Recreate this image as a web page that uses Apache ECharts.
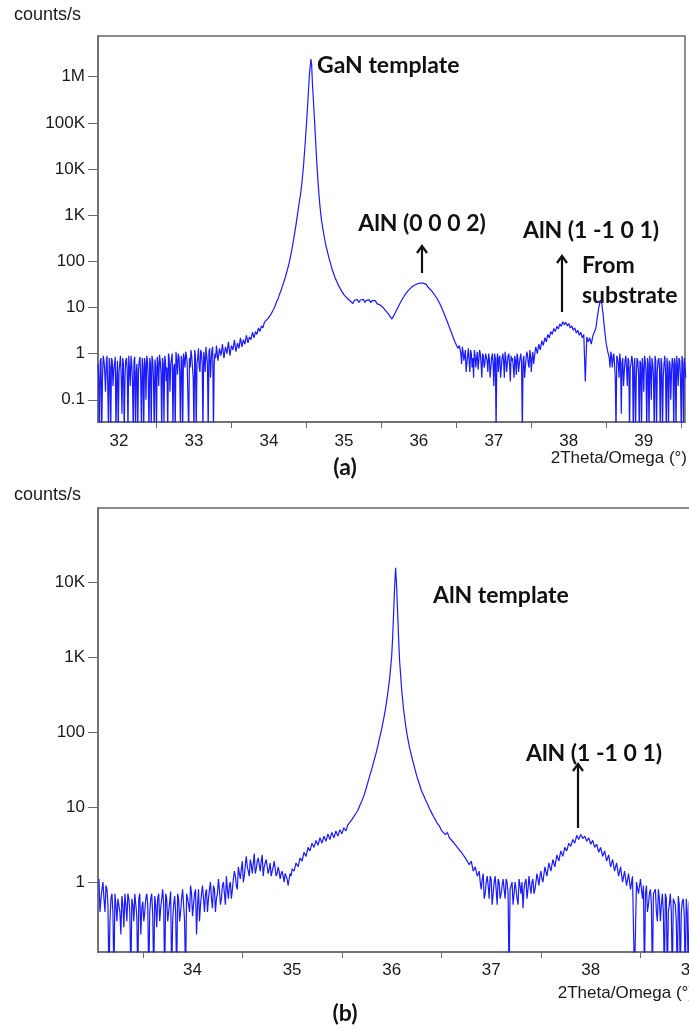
<!DOCTYPE html>
<html><head><meta charset="utf-8">
<script src="https://cdn.jsdelivr.net/npm/echarts@6/dist/echarts.min.js"></script>
<style>html,body{margin:0;padding:0;background:#fff}#c{width:689px;height:1031px}</style>
</head><body><div id="c"></div>
<script>
// (a) GaN template scan: [2Theta (deg), counts/s]
const scanA = [
[31.72,0.6],[31.74,0.02],[31.76,0.8],[31.78,0.3],[31.80,0.7],[31.82,0.15],[31.84,0.9],[31.86,0.02],[31.88,0.5],[31.90,0.8],
[31.92,0.2],[31.94,0.6],[31.96,0.02],[31.98,0.7],[32.00,0.4],[32.02,0.9],[32.04,0.05],[32.06,0.6],[32.08,0.3],[32.10,0.8],
[32.12,0.02],[32.14,0.5],[32.16,0.9],[32.18,0.25],[32.20,0.7],[32.22,0.02],[32.24,0.6],[32.26,0.4],[32.28,0.85],[32.30,0.02],
[32.32,0.5],[32.34,0.8],[32.36,0.1],[32.38,0.7],[32.40,0.02],[32.42,0.6],[32.44,0.9],[32.46,0.3],[32.48,0.75],[32.50,0.02],
[32.52,0.6],[32.54,0.95],[32.56,0.4],[32.58,0.8],[32.60,0.03],[32.62,0.7],[32.64,0.5],[32.66,1.0],[32.68,0.15],[32.70,0.75],
[32.72,0.02],[32.74,0.6],[32.76,1.1],[32.78,0.35],[32.80,0.85],[32.82,0.02],[32.84,0.7],[32.86,1.0],[32.88,0.5],[32.90,0.9],
[32.92,0.1],[32.94,0.8],[32.96,1.2],[32.98,0.5],[33.00,0.02],[33.02,0.9],[33.04,0.6],[33.06,1.3],[33.08,0.4],[33.10,1.0],
[33.12,0.02],[33.14,0.8],[33.16,1.4],[33.18,0.6],[33.20,1.1],[33.22,0.3],[33.24,1.2],[33.26,0.02],[33.28,1.0],[33.30,1.5],
[33.32,0.7],[33.34,1.3],[33.36,0.9],[33.38,1.6],[33.40,0.8],[33.42,1.4],[33.44,1.0],[33.46,1.8],[33.48,0.9],[33.50,1.5],
[33.52,1.2],[33.54,2.0],[33.56,1.1],[33.58,1.7],[33.60,1.3],[33.62,2.2],[33.64,1.4],[33.66,2.0],[33.68,1.6],[33.70,2.5],
[33.72,1.7],[33.74,2.3],[33.76,2.0],[33.78,2.9],[33.80,2.2],[33.82,3.0],[33.84,2.6],[33.86,3.6],[33.88,3.0],[33.90,4.0],
[33.92,3.6],[33.94,4.8],[33.96,4.4],[33.98,5.6],[34.00,5.5],[34.02,6.8],[34.04,7.5],[34.06,9],[34.08,10.5],[34.10,13],
[34.12,15],[34.14,19],[34.16,23],[34.18,29],[34.20,36],[34.22,46],[34.24,60],[34.26,80],[34.28,110],[34.30,160],
[34.32,240],[34.34,380],[34.36,600],[34.38,1000],[34.40,1700],[34.42,2700],[34.44,5000],[34.46,11000],[34.48,30000],[34.50,90000],
[34.52,300000],[34.54,1100000],[34.56,2400000],[34.57,1800000],[34.58,700000],[34.60,200000],[34.62,50000],[34.64,12000],[34.66,4000],[34.68,1600],
[34.70,800],[34.73,400],[34.76,220],[34.80,120],[34.84,70],[34.88,45],[34.92,32],[34.96,24],[35.00,19],[35.04,16],[35.08,14],
[35.10,13.5],[35.12,12.2],[35.14,14.3],[35.16,13.0],[35.18,14.8],[35.20,12.9],[35.22,14.5],[35.24,13.3],[35.26,15.0],[35.28,12.8],
[35.30,14.2],[35.32,13.1],[35.34,14.6],[35.36,12.7],[35.38,14.1],[35.40,13.4],[35.42,14.0],[35.44,12.1],[35.46,13.0],[35.48,11.4],
[35.50,11.8],[35.52,10.1],[35.54,10.0],[35.56,8.4],[35.58,8.3],[35.60,7.0],[35.62,6.9],[35.64,5.6],[35.66,6.4],[35.68,6.9],
[35.70,8.6],[35.72,9.1],[35.74,11.6],[35.76,12.0],[35.78,15.2],[35.80,15.8],[35.82,19.5],[35.84,19.6],[35.86,23.5],[35.88,23.3],
[35.90,27.3],[35.92,26.4],[35.94,30.2],[35.96,28.8],[35.98,32.5],[36.00,30.6],[36.02,33.8],[36.04,31.5],[36.06,33.6],[36.08,30.8],
[36.10,31.6],[36.12,27.8],[36.14,28.4],[36.16,23.9],[36.18,24.0],[36.20,19.8],[36.22,19.5],[36.24,15.8],[36.26,15.4],[36.28,12.0],
[36.30,11.5],[36.32,8.6],[36.34,8.0],[36.36,5.9],[36.38,5.6],[36.40,4.0],[36.42,3.9],[36.44,2.7],[36.46,2.6],[36.48,1.8],
[36.50,1.9],[36.52,1.3],[36.54,1.5],[36.56,1.0],[36.58,1.4],[36.60,0.7],[36.62,1.2],[36.64,0.6],[36.66,1.3],[36.68,0.4],
[36.70,1.0],[36.72,0.8],[36.74,1.2],[36.76,0.5],[36.78,1.1],[36.80,0.7],[36.82,1.0],[36.84,0.3],[36.86,0.9],[36.88,0.6],
[36.90,1.1],[36.92,0.4],[36.94,0.8],[36.96,0.5],[36.98,1.0],[37.00,0.2],[37.02,0.8],[37.03,0.02],[37.04,0.7],[37.06,0.4],
[37.08,0.9],[37.10,0.5],[37.12,1.0],[37.14,0.3],[37.16,0.8],[37.18,0.6],[37.20,1.0],[37.22,0.25],[37.24,0.7],[37.26,0.5],
[37.28,0.9],[37.30,0.35],[37.32,0.8],[37.34,0.6],[37.36,1.0],[37.38,0.02],[37.40,0.9],[37.42,0.5],[37.44,1.1],[37.46,0.6],
[37.48,1.2],[37.50,0.4],[37.52,1.1],[37.54,0.8],[37.56,1.4],[37.58,1.0],[37.60,1.6],[37.62,1.2],[37.64,1.9],[37.66,1.5],
[37.68,2.2],[37.70,1.8],[37.72,2.6],[37.74,2.2],[37.76,3.0],[37.78,2.6],[37.80,3.5],[37.82,3.0],[37.84,3.9],[37.86,3.4],
[37.88,4.4],[37.90,3.9],[37.92,4.9],[37.94,4.2],[37.96,4.8],[37.98,4.0],[38.00,4.5],[38.02,3.6],[38.04,4.0],[38.06,3.2],
[38.08,3.6],[38.10,2.8],[38.12,3.2],[38.14,2.5],[38.16,2.9],[38.18,2.2],[38.20,2.6],[38.22,0.25],[38.24,2.3],[38.26,1.8],
[38.28,2.2],[38.30,1.6],[38.32,2.4],[38.34,2.2],[38.36,3.5],[38.38,6],[38.40,10],[38.42,14],[38.43,15],[38.44,12],
[38.46,6.5],[38.48,3],[38.50,1.6],[38.52,1.1],[38.54,0.8],[38.56,1.1],[38.58,0.5],[38.60,1.0],[38.62,0.3],[38.64,0.9],
[38.66,0.6],[38.68,1.0],[38.70,0.05],[38.72,0.8],[38.74,0.4],[38.76,0.9],[38.78,0.2],[38.80,0.7],[38.82,0.5],[38.84,0.9],
[38.86,0.02],[38.88,0.8],[38.90,0.3],[38.92,0.7],[38.94,0.02],[38.96,0.6],[38.98,0.8],[39.00,0.15],[39.02,0.7],[39.04,0.02],
[39.06,0.6],[39.08,0.9],[39.10,0.1],[39.12,0.6],[39.14,0.02],[39.16,0.7],[39.18,0.4],[39.20,0.8],[39.22,0.02],[39.24,0.6],
[39.26,0.3],[39.28,0.9],[39.30,0.02],[39.32,0.5],[39.34,0.7],[39.36,0.1],[39.38,0.8],[39.40,0.02],[39.42,0.6],[39.44,0.9],
[39.46,0.2],[39.48,0.7],[39.50,0.02],[39.52,0.6],[39.54,0.8],[39.56,0.3]
];
// (a) extra in-between readings of the noisy background
const scanAFill = [
[31.73,0.3],[31.75,0.7],[31.77,0.02],[31.79,0.9],[31.81,0.4],[31.83,0.6],[31.85,0.2],[31.87,0.8],[31.89,0.02],[31.91,0.7],
[31.93,0.45],[31.95,0.85],[31.97,0.3],[31.99,0.02],[32.01,0.6],[32.03,0.3],[32.05,0.8],[32.07,0.02],[32.09,0.7],[32.11,0.45],
[32.13,0.9],[32.15,0.2],[32.17,0.6],[32.19,0.02],[32.21,0.85],[32.23,0.4],[32.25,0.02],[32.27,0.7],[32.29,0.3],[32.31,0.8],
[32.33,0.02],[32.35,0.6],[32.37,0.9],[32.39,0.3],[32.41,0.8],[32.43,0.02],[32.45,0.7],[32.47,0.02],[32.49,0.5],[32.51,0.85],
[32.53,0.2],[32.55,0.7],[32.57,0.02],[32.59,0.6],[32.61,0.9],[32.63,0.25],[32.65,0.02],[32.67,0.8],[32.69,0.6],[32.71,1.0],
[32.73,0.5],[32.75,0.02],[32.77,0.7],[32.79,1.0],[32.81,0.4],[32.83,0.9],[32.85,0.02],[32.87,0.8],[32.89,1.1],[32.91,0.6],
[32.93,0.02],[32.95,0.5],[32.97,0.9],[32.99,0.3],[33.01,1.2],[33.03,0.02],[33.05,0.8],[33.07,0.5],[33.09,1.2],[33.11,0.6],
[33.13,1.1],[33.15,0.4],[33.17,0.9],[33.19,0.02],[33.21,1.3],[33.23,0.7],[33.25,1.4],[33.27,0.6],[33.29,0.8],
[36.57,0.6],[36.59,1.1],[36.61,0.9],[36.63,0.4],[36.65,0.9],[36.67,0.7],[36.69,1.2],[36.71,0.5],[36.73,0.3],[36.75,0.9],
[36.77,0.8],[36.79,0.45],[36.81,1.2],[36.83,0.6],[36.85,1.0],[36.87,0.5],[36.89,1.0],[36.91,0.7],[36.93,1.0],[36.95,0.3],
[36.97,0.8],[36.99,0.6],[37.01,1.0],[37.05,1.0],[37.07,0.8],[37.09,0.3],[37.11,0.8],[37.13,0.7],[37.15,1.1],[37.17,0.4],
[37.19,0.9],[37.21,0.6],[37.23,0.9],[37.25,0.8],[37.27,0.3],[37.29,0.7],[37.31,1.0],[37.33,0.4],[37.35,0.8],[37.37,0.6],
[37.39,0.7],[37.41,0.3],[37.43,0.8],[37.45,0.9],[37.47,0.5],[37.49,0.9],[37.51,0.8],[37.53,0.6],[37.55,1.1],
[38.55,0.5],[38.57,0.9],[38.59,0.8],[38.61,0.6],[38.63,0.02],[38.65,0.8],[38.67,0.3],[38.69,0.7],[38.71,0.6],[38.73,0.2],
[38.75,0.7],[38.77,0.5],[38.79,0.8],[38.81,0.02],[38.83,0.6],[38.85,0.7],[38.87,0.5],[38.89,0.02],[38.91,0.8],[38.93,0.4],
[38.95,0.7],[38.97,0.02],[38.99,0.5],[39.01,0.9],[39.03,0.4],[39.05,0.8],[39.07,0.02],[39.09,0.5],[39.11,0.8],[39.13,0.3],
[39.15,0.9],[39.17,0.02],[39.19,0.7],[39.21,0.5],[39.23,0.8],[39.25,0.02],[39.27,0.6],[39.29,0.4],[39.31,0.8],[39.33,0.02],
[39.35,0.6],[39.37,0.4],[39.39,0.6],[39.41,0.8],[39.43,0.02],[39.45,0.5],[39.47,0.8],[39.49,0.3],[39.51,0.9],[39.53,0.02],[39.55,0.5]
];
// (b) AlN template scan: [2Theta (deg), counts/s]
const scanB = [
[33.06,1.1],[33.08,0.6],[33.10,1.0],[33.12,0.4],[33.14,0.8],[33.16,0.05],[33.18,0.6],[33.20,0.4],[33.22,0.7],[33.24,0.3],
[33.26,0.6],[33.28,0.2],[33.30,0.5],[33.32,0.7],[33.34,0.3],[33.36,0.6],[33.38,0.05],[33.40,0.5],[33.42,0.7],[33.44,0.35],
[33.46,0.6],[33.48,0.2],[33.50,0.55],[33.52,0.4],[33.54,0.7],[33.56,0.05],[33.58,0.6],[33.60,0.35],[33.62,0.65],[33.64,0.25],
[33.66,0.7],[33.68,0.45],[33.70,0.8],[33.72,0.05],[33.74,0.6],[33.76,0.4],[33.78,0.75],[33.80,0.3],[33.82,0.65],[33.84,0.05],
[33.86,0.6],[33.88,0.4],[33.90,0.8],[33.92,0.3],[33.94,0.7],[33.96,0.5],[33.98,0.9],[34.00,0.35],[34.02,0.7],[34.04,0.2],
[34.06,0.8],[34.08,0.5],[34.10,0.9],[34.12,0.4],[34.14,0.8],[34.16,0.6],[34.18,1.0],[34.20,0.45],[34.22,0.8],[34.24,0.6],
[34.26,1.1],[34.28,0.5],[34.30,0.9],[34.32,0.7],[34.34,1.2],[34.36,0.6],[34.38,1.0],[34.40,0.8],[34.42,1.4],[34.44,0.9],
[34.46,1.6],[34.48,1.1],[34.50,1.9],[34.52,1.2],[34.54,2.2],[34.56,1.4],[34.58,2.0],[34.60,1.3],[34.62,2.4],[34.64,1.5],
[34.66,2.1],[34.68,1.4],[34.70,2.3],[34.72,1.6],[34.74,2.0],[34.76,1.3],[34.78,1.8],[34.80,1.4],[34.82,1.9],[34.84,1.2],
[34.86,1.6],[34.88,1.1],[34.90,1.4],[34.92,1.0],[34.94,1.2],[34.96,0.9],[34.98,1.3],[35.00,1.5],[35.02,1.4],[35.04,1.8],
[35.06,1.6],[35.08,2.1],[35.10,1.9],[35.12,2.5],[35.14,2.2],[35.16,2.9],[35.18,2.6],[35.20,3.3],[35.22,2.9],[35.24,3.6],
[35.26,3.1],[35.28,3.9],[35.30,3.3],[35.32,4.1],[35.34,3.5],[35.36,4.4],[35.38,3.7],[35.40,4.6],[35.42,3.9],[35.44,4.8],
[35.46,4.1],[35.48,5.0],[35.50,4.4],[35.52,5.3],[35.54,4.8],[35.56,5.8],[35.58,5.6],[35.60,6.8],[35.62,7.0],[35.64,8.2],
[35.66,9.0],[35.68,10.5],[35.70,12],[35.72,14],[35.74,17],[35.76,21],[35.78,26],[35.80,32],[35.82,40],[35.84,50],
[35.86,64],[35.88,84],[35.90,110],[35.92,150],[35.94,210],[35.96,320],[35.98,520],[36.00,1000],[36.01,1800],[36.02,3800],
[36.03,8500],[36.04,15500],[36.05,9000],[36.06,4000],[36.07,1800],[36.08,900],[36.10,380],[36.12,200],[36.14,125],[36.16,85],
[36.18,62],[36.20,48],[36.22,38],[36.24,30],[36.26,24],[36.28,20],[36.30,16.5],[36.32,14.5],[36.34,12.5],[36.36,11],
[36.38,9.6],[36.40,8.5],[36.42,7.5],[36.44,6.8],[36.46,6.0],[36.48,5.6],[36.50,4.9],[36.52,5.1],[36.54,4.3],[36.56,4.6],
[36.58,3.9],[36.60,4.1],[36.62,3.4],[36.64,3.5],[36.66,2.9],[36.68,3.0],[36.70,2.5],[36.72,2.6],[36.74,2.1],[36.76,2.2],
[36.78,1.7],[36.80,1.9],[36.82,1.4],[36.84,1.6],[36.86,1.2],[36.88,1.4],[36.90,0.8],[36.92,1.3],[36.94,0.7],[36.96,1.2],
[36.98,0.6],[37.00,1.1],[37.02,0.7],[37.04,1.2],[37.06,0.5],[37.08,1.0],[37.10,0.7],[37.12,1.1],[37.14,0.6],[37.16,1.0],
[37.18,0.05],[37.20,0.9],[37.22,0.5],[37.24,1.0],[37.26,0.6],[37.28,1.1],[37.30,0.7],[37.32,0.45],[37.34,1.0],[37.36,0.6],
[37.38,1.2],[37.40,0.7],[37.42,1.1],[37.44,0.8],[37.46,1.3],[37.48,0.9],[37.50,1.4],[37.52,1.0],[37.54,1.6],[37.56,1.2],
[37.58,1.8],[37.60,1.4],[37.62,2.0],[37.64,1.6],[37.66,2.3],[37.68,1.9],[37.70,2.6],[37.72,2.2],[37.74,2.9],[37.76,2.6],
[37.78,3.3],[37.80,3.0],[37.82,3.7],[37.84,3.3],[37.86,4.2],[37.88,3.7],[37.90,4.3],[37.92,3.8],[37.94,4.1],[37.96,3.5],
[37.98,3.9],[38.00,3.2],[38.02,3.6],[38.04,2.9],[38.06,3.2],[38.08,2.5],[38.10,2.9],[38.12,2.2],[38.14,2.6],[38.16,1.9],
[38.18,2.3],[38.20,1.6],[38.22,2.0],[38.24,1.4],[38.26,1.8],[38.28,1.2],[38.30,1.6],[38.32,1.0],[38.34,1.4],[38.36,0.9],
[38.38,1.3],[38.40,0.8],[38.42,1.2],[38.44,0.05],[38.46,1.0],[38.48,0.7],[38.50,1.1],[38.52,0.6],[38.54,0.05],[38.56,0.9],
[38.58,0.5],[38.60,0.8],[38.62,0.05],[38.64,0.7],[38.66,0.4],[38.68,0.8],[38.70,0.3],[38.72,0.7],[38.74,0.05],[38.76,0.6],
[38.78,0.4],[38.80,0.7],[38.82,0.05],[38.84,0.6],[38.86,0.3],[38.88,0.65],[38.90,0.05],[38.92,0.55],[38.94,0.35],[38.96,0.6],
[38.98,0.05],[39.00,0.5],[39.02,0.3],[39.04,0.55],[39.06,0.05],[39.08,0.5],[39.10,0.3],[39.12,0.5],[39.14,0.05],[39.16,0.45]
];
// (b) extra in-between readings of the noisy background
const scanBFill = [
[33.07,0.4],[33.09,0.8],[33.11,0.6],[33.13,0.9],[33.15,0.5],[33.17,0.3],[33.19,0.7],[33.21,0.05],[33.23,0.5],[33.25,0.6],
[33.27,0.4],[33.29,0.65],[33.31,0.25],[33.33,0.5],[33.35,0.7],[33.37,0.4],[33.39,0.6],[33.41,0.3],[33.43,0.5],[33.45,0.05],
[33.47,0.7],[33.49,0.45],[33.51,0.3],[33.53,0.6],[33.55,0.5],[33.57,0.4],[33.59,0.7],[33.61,0.05],[33.63,0.5],[33.65,0.6],
[33.67,0.3],[33.69,0.6],[33.71,0.5],[33.73,0.7],[33.75,0.3],[33.77,0.55],[33.79,0.05],[33.81,0.5],[33.83,0.4],[33.85,0.7],
[33.87,0.3],[33.89,0.6],[33.91,0.5],[33.93,0.05],[33.95,0.6],[33.97,0.4],[33.99,0.7],[34.01,0.5],[34.03,0.8],[34.05,0.5],
[34.07,0.3],[34.09,0.7],[34.11,0.6],[34.13,0.7],[34.15,0.4],[34.17,0.8],[34.19,0.6],[34.21,0.9],[34.23,0.4],[34.25,0.7],
[34.27,0.8],[34.29,0.6],[34.31,1.0],[34.33,0.5],[34.35,0.8],[34.37,0.9],[34.39,0.6],[34.41,1.1],[34.43,1.2],[34.45,0.8],
[34.47,1.3],[34.49,1.5],[34.51,1.0],[34.53,1.7],[34.55,1.6],[34.57,1.2],[34.59,1.7],[34.61,1.8],[34.63,1.3],[34.65,1.9],
[34.67,1.7],[34.69,1.9],[34.71,1.2],[34.73,1.8],[34.75,1.6],[34.77,1.5],[34.79,1.2],[34.81,1.6],[34.83,1.5],[34.85,1.3],
[34.87,1.4],[34.89,1.3],[34.91,1.2],[34.93,1.3],[34.95,1.1],[34.97,1.1],[34.99,1.2],
[36.89,1.0],[36.91,1.1],[36.93,0.6],[36.95,1.0],[36.97,0.9],[36.99,1.2],[37.01,0.5],[37.03,1.0],[37.05,0.8],[37.07,1.1],
[37.09,0.6],[37.11,0.9],[37.13,0.8],[37.15,1.1],[37.17,0.7],[37.19,0.8],[37.21,1.0],[37.23,0.7],[37.25,0.8],[37.27,0.5],
[37.29,0.9],[37.31,1.0],[37.33,0.8],[37.35,1.1],[37.37,0.8],[37.39,0.9],[37.41,1.0],[37.43,0.7],[37.45,1.0],[37.47,1.1],
[37.49,1.2],[37.51,1.1],
[38.51,0.8],[38.53,0.9],[38.55,0.7],[38.57,0.4],[38.59,0.7],[38.61,0.5],[38.63,0.7],[38.65,0.8],[38.67,0.3],[38.69,0.6],
[38.71,0.5],[38.73,0.4],[38.75,0.7],[38.77,0.05],[38.79,0.5],[38.81,0.4],[38.83,0.6],[38.85,0.5],[38.87,0.05],[38.89,0.5],
[38.91,0.4],[38.93,0.6],[38.95,0.05],[38.97,0.4],[38.99,0.55],[39.01,0.4],[39.03,0.05],[39.05,0.45],[39.07,0.4],[39.09,0.05],
[39.11,0.45],[39.13,0.35],[39.15,0.5]
];
// axis ranges
const xRangeA = [31.72, 39.55];
const yRangeA = [0.033, 7.6e6];
const xRangeB = [33.05, 39.5];
const yRangeB = [0.117, 97000];
// tick marks and labels
const xTicksA = [32.5, 33.5, 34.5, 35.5, 36.5, 37.5, 38.5, 39.5];
const xLabelsA = [32, 33, 34, 35, 36, 37, 38, 39];
const xTicksB = [33.5, 34.5, 35.5, 36.5, 37.5, 38.5];
const xLabelsB = [34, 35, 36, 37, 38, 39];
const yTicksA = [0.1, 1, 10, 100, 1000, 10000, 100000, 1000000];
const yTicksB = [1, 10, 100, 1000, 10000];
const yLabelText = {'-1':'0.1','0':'1','1':'10','2':'100','3':'1K','4':'10K','5':'100K','6':'1M'};

const AX = '#6a6a6a';
const FONT = '"Liberation Sans", Arial, sans-serif';
const BOLD = 'Lato, "Open Sans", sans-serif';
const fmtY = v => yLabelText[String(Math.round(Math.log10(v)))] || '';
const byX = (a, b) => a[0] - b[0];
const dataA = scanA.concat(scanAFill).sort(byX);
const dataB = scanB.concat(scanBFill).sort(byX);

function xAxis(grid, range, ticks, labels, margin) {
  return {
    type: 'value', gridIndex: grid, min: range[0], max: range[1],
    axisLine: {show: true, lineStyle: {color: AX, width: 1.5}},
    axisTick: {show: true, customValues: ticks, length: 6, lineStyle: {color: AX, width: 1}},
    axisLabel: {customValues: labels, fontFamily: FONT, fontSize: 17, color: '#1a1a1a', margin: margin},
    splitLine: {show: false}
  };
}
function yAxis(grid, range, ticks) {
  return {
    type: 'log', logBase: 10, gridIndex: grid, min: range[0], max: range[1],
    axisLine: {show: true, lineStyle: {color: AX, width: 1.5}},
    axisTick: {show: true, customValues: ticks, length: 10, lineStyle: {color: AX, width: 1}},
    axisLabel: {customValues: ticks, formatter: fmtY, fontFamily: FONT, fontSize: 17, color: '#1a1a1a', margin: 13},
    splitLine: {show: false}
  };
}
function txt(x, y, s, opt) {
  return Object.assign({type: 'text', x: x, y: y, style: Object.assign({text: s, fill: '#111',
    font: '700 23px ' + BOLD, textVerticalAlign: 'middle', textAlign: 'left'}, opt || {})});
}
function arrow(x, yTop, yBot) {
  return {type: 'group', children: [
    {type: 'line', shape: {x1: x, y1: yBot, x2: x, y2: yTop + 1}, style: {stroke: '#111', lineWidth: 2.2}},
    {type: 'polyline', shape: {points: [[x - 5, yTop + 7], [x, yTop], [x + 5, yTop + 7]]}, style: {stroke: '#111', fill: null, lineWidth: 2.2}}
  ]};
}

const chart = echarts.init(document.getElementById('c'), null, {renderer: 'canvas'});
chart.setOption({
  animation: false,
  backgroundColor: '#fff',
  grid: [
    {left: 98, top: 36, width: 587, height: 386, show: true, borderColor: AX, borderWidth: 1.5, containLabel: false, outerBoundsMode: 'none'},
    {left: 98, top: 508, width: 642, height: 444, show: true, borderColor: AX, borderWidth: 1.5, containLabel: false, outerBoundsMode: 'none'}
  ],
  xAxis: [xAxis(0, xRangeA, xTicksA, xLabelsA, 11), xAxis(1, xRangeB, xTicksB, xLabelsB, 10)],
  yAxis: [yAxis(0, yRangeA, yTicksA), yAxis(1, yRangeB, yTicksB)],
  series: [
    {type: 'line', xAxisIndex: 0, yAxisIndex: 0, data: dataA, showSymbol: false, clip: true,
     lineStyle: {color: '#1a1aff', width: 1.2}},
    {type: 'line', xAxisIndex: 1, yAxisIndex: 1, data: dataB, showSymbol: false, clip: true,
     lineStyle: {color: '#1a1aff', width: 1.2}}
  ],
  graphic: [
    txt(14, 15, 'counts/s', {font: '18px ' + FONT, fill: '#1a1a1a'}),
    txt(14, 495, 'counts/s', {font: '18px ' + FONT, fill: '#1a1a1a'}),
    txt(687, 458, '2Theta/Omega (°)', {font: '17px ' + FONT, fill: '#1a1a1a', textAlign: 'right'}),
    txt(694, 993, '2Theta/Omega (°)', {font: '17px ' + FONT, fill: '#1a1a1a', textAlign: 'right'}),
    txt(345, 468, '(a)', {textAlign: 'center', font: '700 23px ' + BOLD}),
    txt(345, 1014, '(b)', {textAlign: 'center', font: '700 23px ' + BOLD}),
    txt(317, 66, 'GaN template'),
    txt(422, 224, 'AlN (0 0 0 2)', {textAlign: 'center'}),
    arrow(422, 246, 273),
    txt(591, 231, 'AlN (1 -1 0 1)', {textAlign: 'center'}),
    arrow(562, 256, 312),
    txt(582, 266, 'From'),
    txt(582, 296, 'substrate'),
    txt(433, 596, 'AlN template'),
    txt(594, 754, 'AlN (1 -1 0 1)', {textAlign: 'center'}),
    arrow(578, 764, 828)
  ]
});
</script>
</body></html>
